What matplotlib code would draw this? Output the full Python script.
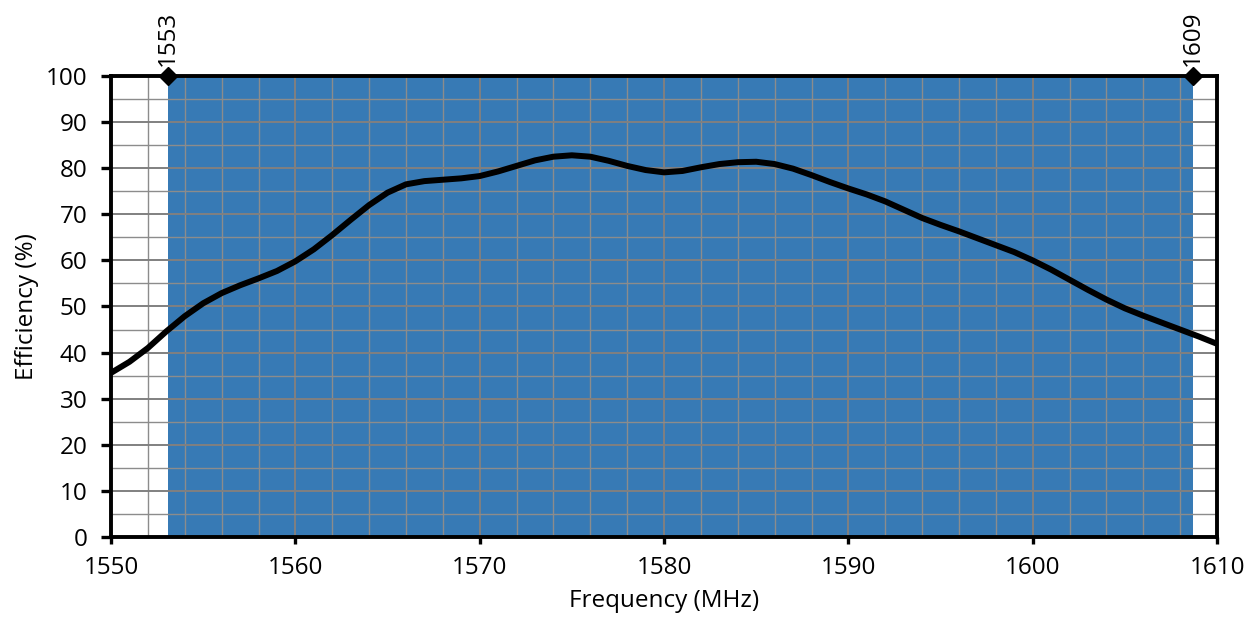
import matplotlib.pyplot as plt
from matplotlib.ticker import MultipleLocator

# efficiency curve (MHz, %)
freq = [1550, 1551, 1552, 1553, 1554, 1555, 1556, 1557, 1558, 1559, 1560,
        1561, 1562, 1563, 1564, 1565, 1566, 1567, 1568, 1569, 1570,
        1571, 1572, 1573, 1574, 1575, 1576, 1577, 1578, 1579, 1580,
        1581, 1582, 1583, 1584, 1585, 1586, 1587, 1588, 1589, 1590,
        1591, 1592, 1593, 1594, 1595, 1596, 1597, 1598, 1599, 1600,
        1601, 1602, 1603, 1604, 1605, 1606, 1607, 1608, 1609, 1610]
eff = [35.6, 38.0, 41.0, 44.6, 47.9, 50.7, 52.9, 54.6, 56.1, 57.7, 59.8,
       62.4, 65.5, 68.8, 72.0, 74.7, 76.5, 77.2, 77.5, 77.8, 78.3,
       79.3, 80.5, 81.7, 82.5, 82.8, 82.5, 81.6, 80.5, 79.6, 79.1,
       79.4, 80.2, 80.9, 81.3, 81.4, 80.9, 79.9, 78.5, 77.0, 75.6,
       74.3, 72.8, 71.0, 69.2, 67.7, 66.3, 64.8, 63.3, 61.8, 60.0,
       58.0, 55.8, 53.6, 51.5, 49.6, 48.0, 46.5, 45.0, 43.5, 41.9]

# band edges as drawn, and their labels
band = [1553.1, 1608.7]
band_labels = ["1553", "1609"]

plt.rcParams['font.family'] = ['Open Sans', 'DejaVu Sans']
fs = 17.5

fig = plt.figure(figsize=(12.56, 6.21), dpi=100)
ax = fig.add_axes([0.0884, 0.1353, 0.8806, 0.7423])

ax.axvspan(band[0], band[1], color='#377AB5', zorder=0.2, lw=0)

ax.set_xlim(1550, 1610)
ax.set_ylim(0, 100)
ax.xaxis.set_major_locator(MultipleLocator(10))
ax.xaxis.set_minor_locator(MultipleLocator(2))
ax.yaxis.set_major_locator(MultipleLocator(10))
ax.yaxis.set_minor_locator(MultipleLocator(5))

ax.grid(which='major', color='#808080', lw=1.4, zorder=0.5)
ax.grid(which='minor', color='#8c8c8c', lw=1.0, zorder=0.5)

ax.plot(freq, eff, color='black', lw=4.3, solid_joinstyle='round',
        solid_capstyle='butt', zorder=3)

# band edge markers on top spine
for b, lab in zip(band, band_labels):
    ax.plot(b, 100, marker='D', color='black', ms=9, clip_on=False, zorder=5)
    ax.annotate(lab, (b, 100), xytext=(0, 7), textcoords='offset points',
                rotation=90, ha='center', va='bottom', fontsize=fs)

for s in ax.spines.values():
    s.set_linewidth(2.8)
    s.set_color('black')
    s.set_zorder(4)

ax.tick_params(axis='y', which='major', direction='out', length=7, width=2.4,
               labelsize=fs, pad=10)
ax.tick_params(axis='x', which='major', direction='out', length=5, width=2.4,
               labelsize=fs, pad=9)
ax.tick_params(which='minor', length=0)

ax.set_xlabel('Frequency (MHz)', fontsize=fs, labelpad=6)
ax.set_ylabel('Efficiency (%)', fontsize=fs, labelpad=5)

fig.savefig('out.png', dpi=100)
